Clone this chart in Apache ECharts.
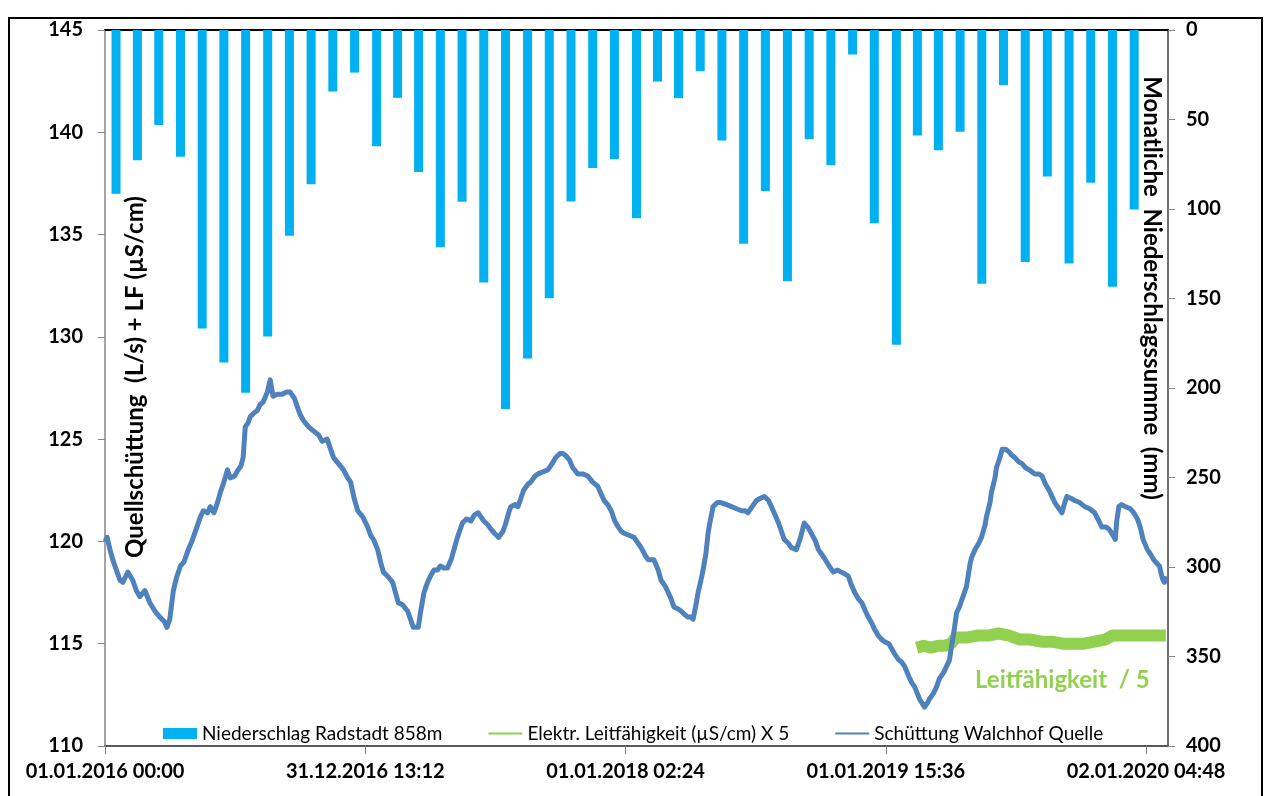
<!DOCTYPE html>
<html><head><meta charset="utf-8">
<script src="https://cdn.jsdelivr.net/npm/echarts@6/dist/echarts.min.js"></script>
<style>html,body{margin:0;padding:0;background:#fff}#c{width:1264px;height:796px}</style>
</head><body><div id="c"></div>
<script>
// ---------- data ----------
const xTickLabels = ['01.01.2016 00:00','31.12.2016 13:12','01.01.2018 02:24','01.01.2019 15:36','02.01.2020 04:48'];
const xTickStepDays = 365.55;   // spacing of the date ticks (days)
const xMaxDays = 1493;          // axis end, days after 01.01.2016
const leftTicks = [110,115,120,125,130,135,140,145];
const rightTicks = [0,50,100,150,200,250,300,350,400];

const months = [
 '2016-01','2016-02','2016-03','2016-04','2016-05','2016-06','2016-07','2016-08','2016-09','2016-10','2016-11','2016-12',
 '2017-01','2017-02','2017-03','2017-04','2017-05','2017-06','2017-07','2017-08','2017-09','2017-10','2017-11','2017-12',
 '2018-01','2018-02','2018-03','2018-04','2018-05','2018-06','2018-07','2018-08','2018-09','2018-10','2018-11','2018-12',
 '2019-01','2019-02','2019-03','2019-04','2019-05','2019-06','2019-07','2019-08','2019-09','2019-10','2019-11','2019-12'
];
const precipMM = [
 91.5, 72.8, 53.1, 70.8, 166.8, 185.7, 202.6, 171.2, 115.0, 86.2, 34.4, 23.8,
 65.0, 37.9, 79.3, 121.3, 96.0, 141.0, 211.7, 183.5, 149.9, 95.8, 77.1, 72.1,
 105.1, 28.8, 38.1, 23.0, 61.7, 119.4, 89.9, 140.4, 60.9, 75.6, 13.7, 107.9,
 175.9, 58.9, 67.2, 56.8, 141.7, 30.8, 129.6, 81.9, 130.4, 85.4, 143.4, 100.3
];

// Schüttung Walchhof Quelle: days after 01.01.2016 and discharge (L/s)
const flowDays = [0,3,7,11,17,21,25,32,39,44,49,56,63,70,77,83,87,91,96,101,106,111,117,122,129,134,138,144,148,153,158,162,167,172,176,182,187,191,194,197,201,204,210,214,218,222,228,232,236,242,249,255,260,266,270,274,279,286,293,300,305,312,317,321,328,335,341,345,350,355,362,369,373,377,383,387,391,397,404,408,412,418,425,429,433,440,443,448,453,457,462,467,471,476,481,486,491,495,502,508,514,519,524,528,532,538,542,547,553,559,563,567,570,576,580,584,588,594,598,604,608,615,622,628,633,639,643,647,652,657,664,671,678,685,692,697,701,706,711,716,721,725,729,736,743,749,753,759,763,767,771,777,781,787,791,795,799,805,809,815,819,823,826,830,833,837,840,844,847,850,854,860,865,873,880,887,894,899,903,909,915,920,926,932,936,941,946,950,954,960,964,971,977,982,987,992,998,1002,1006,1010,1017,1023,1029,1034,1040,1044,1048,1053,1058,1063,1068,1072,1077,1081,1086,1091,1095,1101,1109,1115,1119,1123,1129,1133,1137,1144,1151,1155,1158,1164,1168,1172,1178,1182,1186,1189,1192,1196,1200,1203,1207,1210,1215,1217,1222,1227,1231,1236,1238,1243,1245,1250,1252,1257,1260,1265,1269,1274,1278,1283,1288,1293,1298,1302,1306,1312,1316,1321,1326,1330,1334,1340,1344,1348,1351,1357,1362,1369,1376,1383,1390,1396,1400,1406,1410,1414,1419,1421,1424,1428,1433,1440,1445,1450,1454,1458,1464,1468,1473,1478,1481,1485,1488,1490];
const flowLs = [120.0,120.2,119.6,119.1,118.5,118.1,118.0,118.5,118.1,117.6,117.3,117.6,117.0,116.6,116.3,116.1,115.8,116.2,117.6,118.3,118.8,119.0,119.6,120.0,120.7,121.2,121.5,121.4,121.7,121.4,121.9,122.4,122.9,123.5,123.1,123.2,123.5,123.7,124.1,125.6,125.8,126.1,126.3,126.4,126.7,126.8,127.3,127.9,127.1,127.2,127.2,127.3,127.3,127.0,126.6,126.2,125.9,125.6,125.4,125.2,124.9,125.0,124.5,124.1,123.8,123.5,123.1,122.9,122.1,121.5,121.2,120.7,120.3,120.1,119.6,119.0,118.5,118.3,118.0,117.5,117.0,116.9,116.6,116.2,115.8,115.8,116.5,117.5,118.0,118.3,118.6,118.6,118.8,118.7,118.7,119.1,119.7,120.2,120.9,121.1,121.0,121.3,121.4,121.2,121.0,120.8,120.6,120.4,120.2,120.5,120.9,121.4,121.7,121.8,121.7,122.1,122.5,122.8,122.9,123.2,123.3,123.4,123.5,123.8,124.1,124.3,124.3,124.2,124.0,123.6,123.3,123.3,123.2,122.9,122.7,122.3,122.0,121.8,121.5,121.0,120.7,120.5,120.4,120.3,120.2,119.9,119.7,119.3,119.1,119.1,119.1,118.6,118.1,117.8,117.5,117.2,116.8,116.7,116.6,116.4,116.3,116.3,116.2,116.9,117.5,118.1,118.6,119.4,120.4,121.0,121.7,121.9,121.9,121.8,121.7,121.6,121.5,121.5,121.4,121.7,122.0,122.1,122.2,122.0,121.7,121.3,120.9,120.5,120.1,119.9,119.7,119.6,120.2,120.9,120.7,120.4,120.0,119.6,119.4,119.2,118.8,118.5,118.6,118.5,118.4,118.3,117.9,117.5,117.2,117.0,116.6,116.3,116.0,115.7,115.4,115.2,115.1,115.0,114.5,114.2,114.1,113.9,113.4,113.1,112.9,112.3,111.9,112.1,112.3,112.6,112.9,113.3,113.6,113.9,114.2,114.9,115.5,116.5,116.8,117.1,117.5,117.8,118.9,119.2,119.6,119.9,120.2,120.8,121.2,121.9,122.4,123.1,123.6,124.1,124.5,124.5,124.4,124.2,124.1,123.9,123.8,123.6,123.5,123.4,123.3,123.3,123.2,122.8,122.5,122.2,121.9,121.6,121.4,121.9,122.2,122.1,122.0,121.9,121.7,121.6,121.4,121.0,120.7,120.7,120.6,120.4,120.1,121.0,121.7,121.8,121.7,121.6,121.4,121.1,120.7,120.1,119.6,119.4,119.1,118.9,118.8,118.2,118.0,118.3];

// Elektr. Leitfähigkeit (µS/cm) X 5
const lfDays = [1140,1150,1160,1170,1180,1188,1195,1210,1225,1240,1255,1270,1285,1300,1315,1330,1345,1360,1375,1390,1405,1415,1430,1445,1460,1475,1490];
const lfValues = [114.8,114.9,114.8,114.9,114.9,115.0,115.3,115.3,115.4,115.4,115.5,115.4,115.2,115.2,115.1,115.1,115.0,115.0,115.0,115.1,115.2,115.4,115.4,115.4,115.4,115.4,115.4];

// ---------- chart ----------
const DAY = 86400000;
const start = Date.UTC(2016,0,1);
function midMonthDay(ym){
  const y = +ym.slice(0,4), m = +ym.slice(5,7) - 1;
  return ((Date.UTC(y,m,1) + Date.UTC(y,m+1,1)) / 2 - start) / DAY;
}
const xTickValues = xTickLabels.map((_, i) => i * xTickStepDays);
const FONT = 'Lato';
// thin horizontal line legend icon (bounding box kept at full item height)
const LINE_ICON = 'path://M0,0h0.01v0.01h-0.01z M0,4.6h34v1.8h-34z M0,10.99h0.01v0.01h-0.01z';

const chart = echarts.init(document.getElementById('c'), null, {renderer:'canvas'});
chart.setOption({
  animation: false,
  backgroundColor: '#fff',
  grid: {left:105, right:96, top:30, bottom:50, containLabel:false},
  xAxis: [{
    type:'value', min:0, max:xMaxDays, interval:xTickStepDays, position:'bottom',
    axisLine:{show:true, onZero:false, lineStyle:{color:'#595959', width:2}},
    axisTick:{show:true, length:8, lineStyle:{color:'#7f7f7f'}, customValues:xTickValues},
    splitLine:{show:false},
    axisLabel:{customValues:xTickValues, margin:16, fontFamily:FONT, fontWeight:'bold', fontSize:20, color:'#000',
      formatter: v => { const i = Math.round(v / xTickStepDays); return Math.abs(v - i*xTickStepDays) < 1e-6 && xTickLabels[i] ? xTickLabels[i] : ''; }}
  },{
    type:'value', min:0, max:xMaxDays, position:'top',
    axisLine:{show:true, onZero:false, lineStyle:{color:'#000', width:2}},
    axisTick:{show:false}, axisLabel:{show:false}, splitLine:{show:false}
  }],
  yAxis: [{
    type:'value', min:leftTicks[0], max:leftTicks[leftTicks.length-1], interval:5, position:'left',
    axisLine:{show:true, onZero:false, lineStyle:{color:'#868686', width:1.5}},
    axisTick:{show:true, length:7, lineStyle:{color:'#868686'}},
    splitLine:{show:false},
    axisLabel:{margin:22, fontFamily:FONT, fontWeight:'bold', fontSize:20, color:'#000'}
  },{
    type:'value', min:rightTicks[0], max:rightTicks[rightTicks.length-1], interval:50, position:'right', inverse:true,
    axisLine:{show:true, onZero:false, lineStyle:{color:'#404040', width:1.5}},
    axisTick:{show:true, length:7, lineStyle:{color:'#868686'}},
    splitLine:{show:false},
    axisLabel:{margin:18, fontFamily:FONT, fontWeight:'bold', fontSize:20, color:'#000'}
  }],
  legend: {
    left:163, top:724, padding:0, itemWidth:34, itemHeight:11, itemGap:46,
    textStyle:{fontFamily:FONT, fontSize:19, color:'#000'},
    data:[
      {name:'Niederschlag Radstadt 858m', icon:'rect'},
      {name:'Elektr. Leitfähigkeit (µS/cm) X 5', icon:LINE_ICON},
      {name:'Schüttung Walchhof Quelle', icon:LINE_ICON}
    ]
  },
  series: [{
    name:'Niederschlag Radstadt 858m', type:'bar', xAxisIndex:0, yAxisIndex:1,
    barWidth:9, itemStyle:{color:'#00b0f0'},
    data: months.map((m,i) => [midMonthDay(m), precipMM[i]])
  },{
    name:'Elektr. Leitfähigkeit (µS/cm) X 5', type:'line', xAxisIndex:0, yAxisIndex:0,
    showSymbol:false, symbol:'none', lineStyle:{color:'#92d050', width:12}, itemStyle:{color:'#92d050'},
    data: lfDays.map((d,i) => [d, lfValues[i]])
  },{
    name:'Schüttung Walchhof Quelle', type:'line', xAxisIndex:0, yAxisIndex:0,
    showSymbol:false, symbol:'none', lineStyle:{color:'#4f81bd', width:5, join:'round'}, itemStyle:{color:'#4f81bd'},
    data: flowDays.map((d,i) => [d, flowLs[i]])
  }],
  graphic: [
    {type:'rect', shape:{x:9, y:18, width:1253, height:800}, style:{fill:'none', stroke:'#000', lineWidth:2}, silent:true},
    {type:'text', x:135, y:377, rotation:Math.PI/2,
      style:{text:'Quellschüttung  (L/s) + LF (µS/cm)', font:'bold 24px Lato', fill:'#000', align:'center', verticalAlign:'middle'}},
    {type:'text', x:1152, y:288, rotation:-Math.PI/2,
      style:{text:'Monatliche  Niederschlagssumme  (mm)', font:'bold 24px Lato', fill:'#000', align:'center', verticalAlign:'middle'}},
    {type:'text', x:975, y:680,
      style:{text:'Leitfähigkeit  / 5', font:'bold 24px Lato', fill:'#92d050', align:'left', verticalAlign:'middle'}}
  ]
});
</script></body></html>
